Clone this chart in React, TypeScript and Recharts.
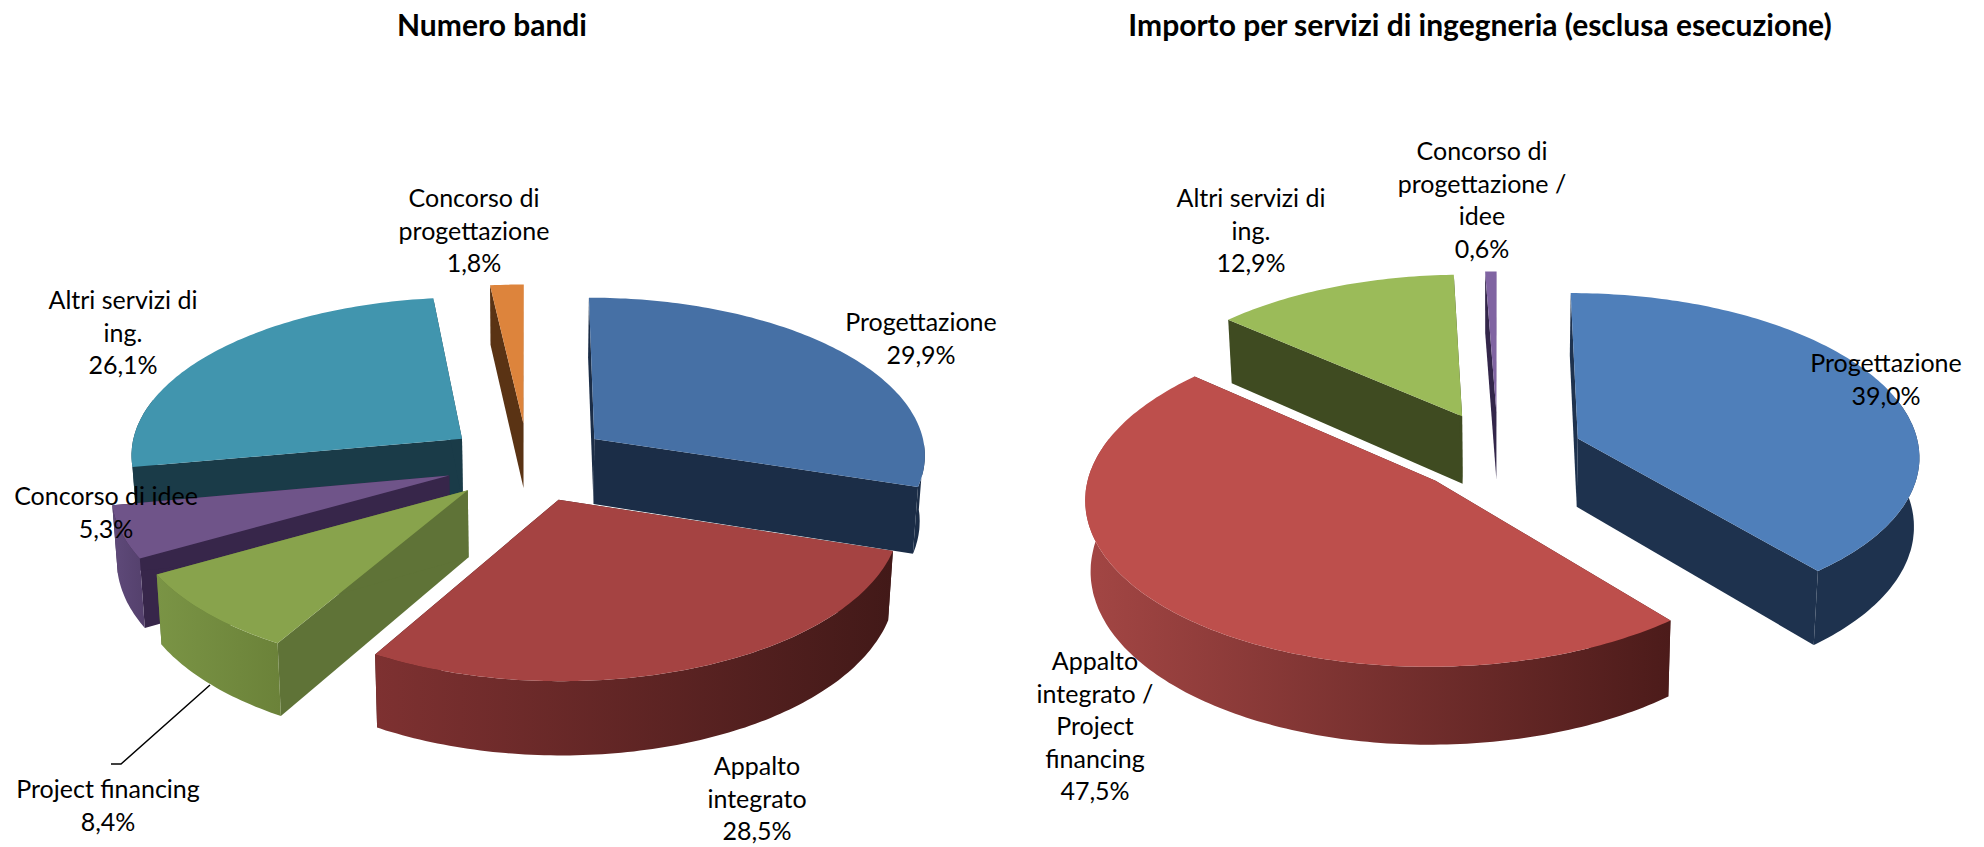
import React from 'react'
import { PieChart, Pie } from 'recharts'

// values
const bandiNames = ['Progettazione', 'Appalto integrato', 'Project financing', 'Concorso di idee', 'Altri servizi di ing.', 'Concorso di progettazione']
const bandiValues = [29.9, 28.5, 8.4, 5.3, 26.1, 1.8]
const bandiLabels = [['Progettazione'], ['Appalto', 'integrato'], ['Project financing'], ['Concorso di idee'], ['Altri servizi di', 'ing.'], ['Concorso di', 'progettazione']]

const importoNames = ['Progettazione', 'Appalto integrato / Project financing', 'Altri servizi di ing.', 'Concorso di progettazione / idee']
const importoValues = [39.0, 47.5, 12.9, 0.6]
const importoLabels = [['Progettazione'], ['Appalto', 'integrato /', 'Project', 'financing'], ['Altri servizi di', 'ing.'], ['Concorso di', 'progettazione /', 'idee']]

const bandiStyle = [
  { top: '#4670a5', side: '#1b2d47', wallA: '#1b2d47', wallB: '#1b2d47' },
  { top: '#a54342', side: '#431a19', wallA: '#7e3131', wallB: '#421918' },
  { top: '#88a34c', side: '#5f7337', wallA: '#7a9445', wallB: '#6b8239' },
  { top: '#6f5489', side: '#37264a', wallA: '#5f4a7a', wallB: '#54406c' },
  { top: '#4195ae', side: '#1a3b48', wallA: '#1a3b48', wallB: '#1a3b48' },
  { top: '#dd843c', side: '#5a3314', wallA: '#5a3314', wallB: '#5a3314' },
]
const importoStyle = [
  { top: '#4f7fba', side: '#1e324e', wallA: '#1e324e', wallB: '#1e324e' },
  { top: '#bd4f4c', side: '#4f1c1b', wallA: '#a34644', wallB: '#4c1b1a' },
  { top: '#9bbb59', side: '#3f4b21', wallA: '#3f4b21', wallB: '#3f4b21' },
  { top: '#8064a2', side: '#33264a', wallA: '#33264a', wallB: '#33264a' },
]

// label anchors: centre x, first line centre y
const bandiLabelPos = [[921, 322], [757, 766], [108, 789], [106, 496], [123, 300], [474, 198]]
const importoLabelPos = [[1886, 363], [1095, 661], [1251, 198], [1482, 151]]

const LINE = 32.6
const EXPLODE = 0.25
const rad = (d: number) => (d * Math.PI) / 180

const makeRows = (names: string[], values: number[]) => names.map((name, i) => ({ name, value: values[i] }))
const fmt = (v: number) => v.toFixed(1).replace('.', ',') + '%'

// 3d slice: the angles come from the Pie, then get projected with a bit of perspective
const slice3d = (names: string[], style: any[], only: number, ry: number, k: number, depth: number, wallFrom: number, id: string) => (p: any) => {
  const i = names.indexOf(p.name)
  if (i !== only) return <g />
  const { cx, cy, outerRadius: rx, startAngle, endAngle } = p
  const a = 90 - startAngle
  const b = 90 - endAngle
  const mid = rad((a + b) / 2)
  const ox = Math.sin(mid) * EXPLODE
  const oy = -Math.cos(mid) * EXPLODE
  const pt = (ux: number, uy: number, down: boolean) => {
    const wx = ux + ox
    const wy = uy + oy
    const den = 1 - k * wy
    const x = cx + (rx * wx) / den
    const y = cy + (ry * wy) / den
    return down ? [cx + (x - cx) * 0.987, y + depth / den] : [x, y]
  }
  const onRim = (t: number, down: boolean) => pt(Math.sin(rad(t)), -Math.cos(rad(t)), down)
  const path = (pts: number[][]) => 'M' + pts.map((q) => q[0].toFixed(1) + ',' + q[1].toFixed(1)).join('L') + 'Z'

  const rim: number[] = []
  for (let t = a; t < b; t += 1) rim.push(t)
  rim.push(b)
  const wallRim: number[] = []
  const wa = Math.max(a, wallFrom)
  const wb = Math.min(b, 285)
  if (wb > wa) {
    for (let t = wa; t < wb; t += 1) wallRim.push(t)
    wallRim.push(wb)
  }
  const s = style[i]
  const gid = id + '-wall-' + i
  return (
    <g>
      <defs>
        <linearGradient id={gid} x1="0" y1="0" x2="1" y2="0">
          <stop offset="0%" stopColor={s.wallA} />
          <stop offset="100%" stopColor={s.wallB} />
        </linearGradient>
      </defs>
      <path d={path([pt(0, 0, false), onRim(a, false), onRim(a, true), pt(0, 0, true)])} fill={s.side} />
      <path d={path([pt(0, 0, false), onRim(b, false), onRim(b, true), pt(0, 0, true)])} fill={s.side} />
      {wallRim.length > 0 && (
        <path
          d={path([...wallRim.map((t) => onRim(t, false)), ...wallRim.slice().reverse().map((t) => onRim(t, true))])}
          fill={`url(#${gid})`}
        />
      )}
      <path d={path([pt(0, 0, false), ...rim.map((t) => onRim(t, false))])} fill={s.top} />
    </g>
  )
}

const sliceLabel = (names: string[], lines: string[][], pos: number[][]) => (p: any) => {
  const i = names.indexOf(p.name)
  const [x, y] = pos[i]
  const rows = [...lines[i], fmt(p.value)]
  return (
    <g>
      {p.name === 'Project financing' && <polyline points="210,685 121,764 111,764" fill="none" stroke="#000" strokeWidth={1.5} />}
      <text textAnchor="middle" fontFamily="Lato" fontSize={25} fill="#000">
        {rows.map((r, n) => (
          <tspan key={n} x={x} y={y + n * LINE + 9}>{r}</tspan>
        ))}
      </text>
    </g>
  )
}

const bandiRows = makeRows(bandiNames, bandiValues)
const importoRows = makeRows(importoNames, importoValues)
// back to front
const bandiOrder = [5, 4, 0, 3, 2, 1]
const importoOrder = [3, 2, 0, 1]

export default function App() {
  return (
    <div style={{ position: 'absolute', left: 0, top: 0, background: '#fff' }}>
      <PieChart width={1984} height={847} margin={{ top: 0, right: 0, bottom: 0, left: 0 }}>
        <text x={492} y={36} textAnchor="middle" fontFamily="Lato" fontWeight="bold" fontSize={30}>Numero bandi</text>
        <text x={1480} y={36} textAnchor="middle" fontFamily="Lato" fontWeight="bold" fontSize={30}>Importo per servizi di ingegneria (esclusa esecuzione)</text>
        {bandiOrder.map((idx, n) => (
          <Pie
            key={'bandi' + idx}
            data={bandiRows}
            dataKey="value"
            nameKey="name"
            cx={528}
            cy={462}
            outerRadius={333}
            startAngle={90}
            endAngle={-270}
            stroke="none"
            isAnimationActive={false}
            shape={slice3d(bandiNames, bandiStyle, idx, 158, 0.09, 66, 92, 'bandi')}
            label={n === bandiOrder.length - 1 ? sliceLabel(bandiNames, bandiLabels, bandiLabelPos) : false}
            labelLine={false}
          />
        ))}
        {importoOrder.map((idx, n) => (
          <Pie
            key={'importo' + idx}
            data={importoRows}
            dataKey="value"
            nameKey="name"
            cx={1498}
            cy={452}
            outerRadius={342}
            startAngle={90}
            endAngle={-270}
            stroke="none"
            isAnimationActive={false}
            shape={slice3d(importoNames, importoStyle, idx, 162, 0.0976, 69, 75, 'importo')}
            label={n === importoOrder.length - 1 ? sliceLabel(importoNames, importoLabels, importoLabelPos) : false}
            labelLine={false}
          />
        ))}
      </PieChart>
    </div>
  )
}
